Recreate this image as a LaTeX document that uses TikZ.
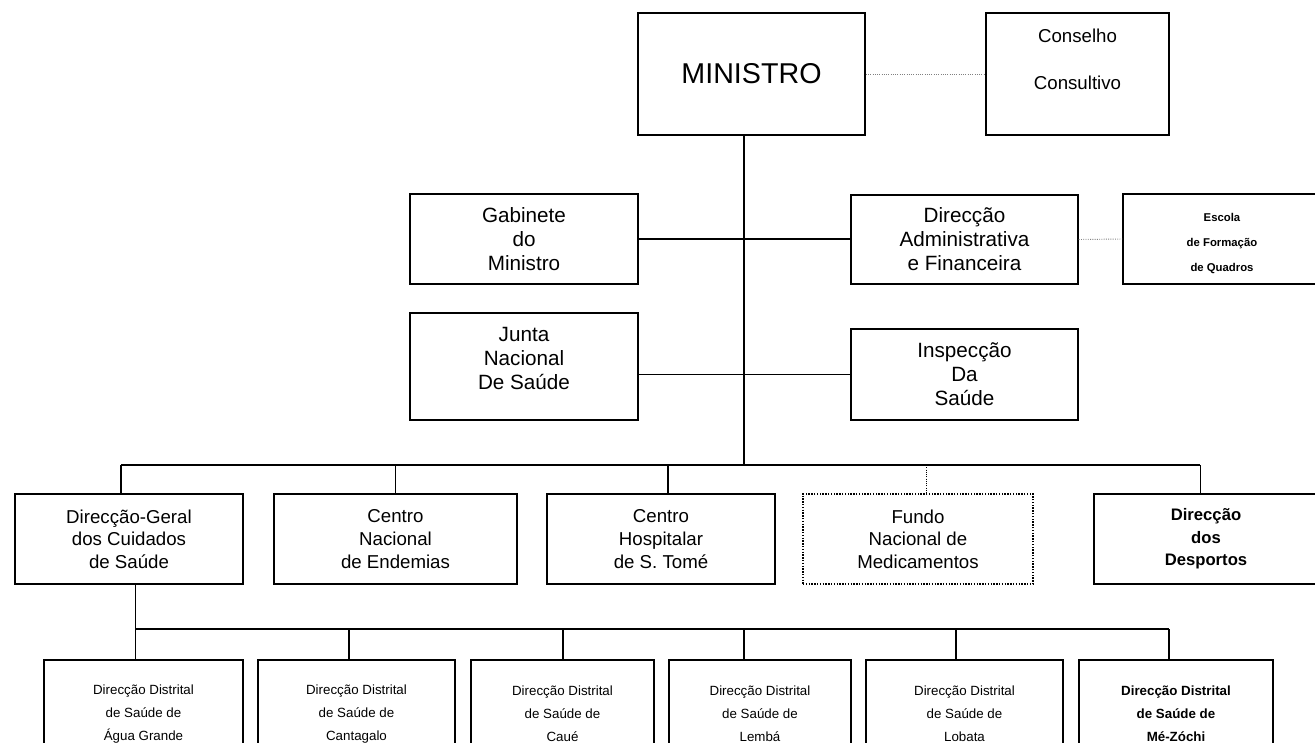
\documentclass[tikz,border=0pt]{standalone}
\usepackage{fontspec}
\setmainfont{Liberation Sans}
\newcommand\fmin{\fontsize{21.5}{26}\selectfont}
\newcommand\fcons{\fontsize{14}{35}\selectfont}
\newcommand\fmid{\fontsize{15.5}{18}\selectfont}
\newcommand\frow{\fontsize{14}{17}\selectfont}
\newcommand\fdist{\fontsize{10}{17.25}\selectfont}
\newcommand\fesc{\fontsize{8.5}{18.4}\selectfont\bfseries}

\begin{document}
\begin{tikzpicture}[x=0.75pt,y=-0.75pt,every node/.style={inner sep=0pt,align=center},
    box/.style n args={2}{draw,line width=1.1pt,minimum width=#1*0.75pt,minimum height=#2*0.75pt},
    link/.style={line width=1pt},
    weak/.style={densely dotted,line width=0.7pt,gray}]
	%% page
	\useasboundingbox[fill=white] (0,0) rectangle (1315,743);

	\def\busA{465} % upper bus
	\def\busB{629} % lower bus

	% top
	\node[box={227}{122},font=\fmin] (min) at (751.5,74) {MINISTRO};
	\node[box={183}{122},font=\fcons,text height=45pt,text depth=22.5pt] (cons) at (1077.5,74) {Conselho\\Consultivo};

	% staff
	\node[box={228}{90},font=\fmid] (gab) at (524,239) {Gabinete\\do\\Ministro};
	\node[box={227}{89},font=\fmid] (daf) at (964.5,239.5) {Direcção\\Administrativa\\e Financeira};
	\node[box={198}{90},font=\fesc,text height=50pt,text depth=2pt] (esc) at (1222,239) {Escola\\de Formação\\de Quadros};
	\node[box={228}{107},font=\fmid,text height=47.5pt,text depth=13pt] (jun) at (524,366.5) {Junta\\Nacional\\De Saúde};
	\node[box={227}{91},font=\fmid] (ins) at (964.5,374.5) {Inspecção\\Da\\Saúde};

	% services
	\node[box={228}{90},font=\frow] (dgc) at (129,539) {Direcção-Geral\\dos Cuidados\\de Saúde};
	\node[box={243}{90},font=\frow] (cne) at (395.5,539) {Centro\\Nacional\\de Endemias};
	\node[box={228}{90},font=\frow] (chs) at (661,539) {Centro\\Hospitalar\\de S. Tomé};
	\node[box={230}{90},font=\frow,densely dotted,line width=0.8pt] (fnm) at (918,539) {Fundo\\Nacional de\\Medicamentos};
	\node[box={224}{90},font=\fontsize{12.5}{17}\selectfont\bfseries] (ddd) at (1206,539) {Direcção\\dos\\Desportos};

	% districts
	\foreach \n/\x/\w/\t in {dd1/143.5/199/Água Grande,dd2/356.5/197/Cantagalo,dd3/562.5/183/Caué,dd4/760/182/Lembá,dd5/964.5/197/Lobata}
		\node[box={\w}{108},font=\fdist] (\n) at (\x,714) {Direcção Distrital\\de Saúde de\\\t};
	\node[box={194}{108},font=\fdist\bfseries] (dd6) at (1176,714) {Direcção Distrital\\de Saúde de\\Mé-Zóchi};

	% links
	\coordinate (trunk) at (744,\busA);
	\draw[link] (min.south -| trunk) -- (trunk);
	\draw[link] (gab.east) -- (gab.east -| daf.west);
	\draw[link] (ins.west -| jun.east) -- (ins.west);
	\draw[weak] (min.east) -- (cons.west);
	\draw[weak] (daf.east) -- (esc.west);

	\foreach \n/\x in {dgc/121,cne/395.5,chs/668,fnm/926,ddd/1200}
		\coordinate (j\n) at (\x,\busA);
	\draw[link] (jdgc) -- (jddd);
	\foreach \n in {dgc,cne,chs}
		\draw[link] (j\n) -- (j\n |- \n.north);
	\draw[weak,black] (jfnm) -- (jfnm |- fnm.north);
	\draw[thin] (jddd) -- (jddd |- ddd.north);

	\foreach \n/\x in {dd1/135.5,dd2/349,dd3/563,dd4/744,dd5/956,dd6/1169}
		\coordinate (j\n) at (\x,\busB);
	\draw[link] (dgc.south -| jdd1) -- (jdd1) -- (jdd6);
	\foreach \i in {1,...,6}
		\draw[link] (jdd\i) -- (jdd\i |- dd\i.north);
\end{tikzpicture}
\end{document}
